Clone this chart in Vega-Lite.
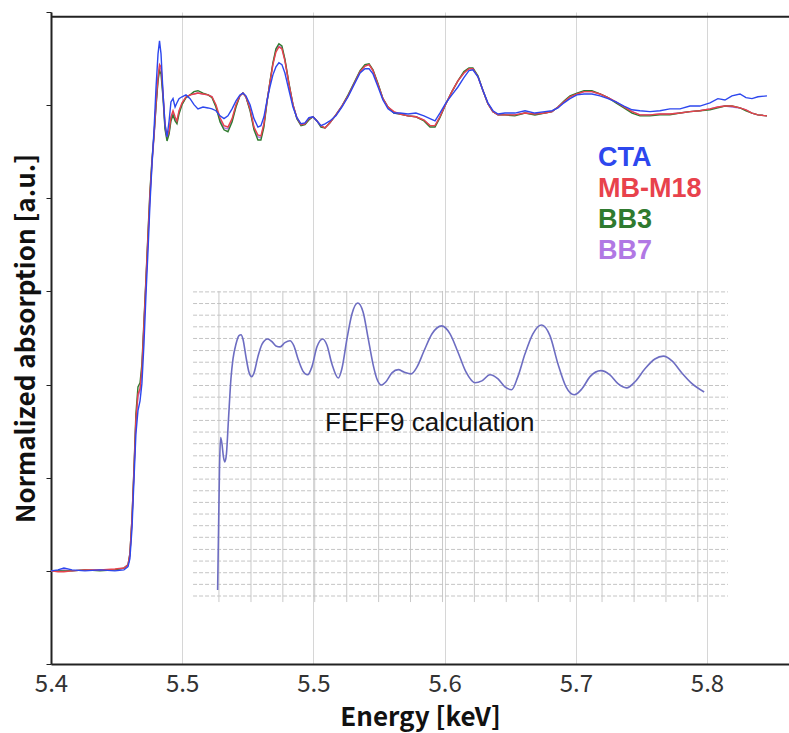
{
  "$schema": "https://vega.github.io/schema/vega-lite/v6.json",
  "width": 738,
  "height": 652,
  "autosize": {"type": "none"},
  "padding": {"left": 51, "top": 12, "right": 0, "bottom": 69},
  "background": "white",
  "config": {"view": {"stroke": null}, "font": "Noto Sans CJK JP"},
  "datasets": {
    "exp": [
      {"E":5.4000,"CTA":0,"MB-M18":0,"BB3":0,"BB7":0},
      {"E":5.4037,"CTA":0.002,"MB-M18":-0.002,"BB3":0,"BB7":0},
      {"E":5.4069,"CTA":0.006,"MB-M18":-0.002,"BB3":0,"BB7":0.002},
      {"E":5.4112,"CTA":0.002,"MB-M18":0,"BB3":0,"BB7":0},
      {"E":5.4181,"CTA":0,"MB-M18":0.002,"BB3":0.002,"BB7":0.002},
      {"E":5.4261,"CTA":0.002,"MB-M18":0.002,"BB3":0,"BB7":0.002},
      {"E":5.4341,"CTA":0,"MB-M18":0.004,"BB3":0.002,"BB7":0.002},
      {"E":5.4389,"CTA":0.002,"MB-M18":0.006,"BB3":0.006,"BB7":0.006},
      {"E":5.4411,"CTA":0.009,"MB-M18":0.013,"BB3":0.013,"BB7":0.013},
      {"E":5.4421,"CTA":0.026,"MB-M18":0.037,"BB3":0.037,"BB7":0.034},
      {"E":5.4432,"CTA":0.090,"MB-M18":0.112,"BB3":0.112,"BB7":0.107},
      {"E":5.4443,"CTA":0.198,"MB-M18":0.219,"BB3":0.223,"BB7":0.215},
      {"E":5.4453,"CTA":0.294,"MB-M18":0.326,"BB3":0.337,"BB7":0.322},
      {"E":5.4464,"CTA":0.344,"MB-M18":0.380,"BB3":0.395,"BB7":0.374},
      {"E":5.4475,"CTA":0.365,"MB-M18":0.391,"BB3":0.404,"BB7":0.387},
      {"E":5.4485,"CTA":0.402,"MB-M18":0.434,"BB3":0.444,"BB7":0.429},
      {"E":5.4496,"CTA":0.487,"MB-M18":0.530,"BB3":0.537,"BB7":0.524},
      {"E":5.4507,"CTA":0.595,"MB-M18":0.627,"BB3":0.631,"BB7":0.623},
      {"E":5.4518,"CTA":0.691,"MB-M18":0.724,"BB3":0.730,"BB7":0.717},
      {"E":5.4528,"CTA":0.788,"MB-M18":0.810,"BB3":0.816,"BB7":0.803},
      {"E":5.4539,"CTA":0.874,"MB-M18":0.880,"BB3":0.885,"BB7":0.874},
      {"E":5.4550,"CTA":0.949,"MB-M18":0.938,"BB3":0.938,"BB7":0.932},
      {"E":5.4560,"CTA":1.035,"MB-M18":1.003,"BB3":0.996,"BB7":0.996},
      {"E":5.4571,"CTA":1.110,"MB-M18":1.061,"BB3":1.052,"BB7":1.056},
      {"E":5.4579,"CTA":1.138,"MB-M18":1.087,"BB3":1.074,"BB7":1.082},
      {"E":5.4587,"CTA":1.110,"MB-M18":1.082,"BB3":1.067,"BB7":1.078},
      {"E":5.4598,"CTA":1.024,"MB-M18":1.024,"BB3":1.014,"BB7":1.018},
      {"E":5.4608,"CTA":0.960,"MB-M18":0.960,"BB3":0.949,"BB7":0.953},
      {"E":5.4619,"CTA":0.932,"MB-M18":0.932,"BB3":0.923,"BB7":0.928},
      {"E":5.4630,"CTA":0.966,"MB-M18":0.945,"BB3":0.938,"BB7":0.941},
      {"E":5.4640,"CTA":1.007,"MB-M18":0.975,"BB3":0.966,"BB7":0.971},
      {"E":5.4651,"CTA":1.014,"MB-M18":0.988,"BB3":0.979,"BB7":0.983},
      {"E":5.4662,"CTA":0.996,"MB-M18":0.975,"BB3":0.966,"BB7":0.971},
      {"E":5.4672,"CTA":1.005,"MB-M18":0.966,"BB3":0.960,"BB7":0.964},
      {"E":5.4683,"CTA":1.014,"MB-M18":0.988,"BB3":0.981,"BB7":0.986},
      {"E":5.4699,"CTA":1.018,"MB-M18":1.005,"BB3":1.001,"BB7":1.003},
      {"E":5.4720,"CTA":1.022,"MB-M18":1.018,"BB3":1.016,"BB7":1.016},
      {"E":5.4742,"CTA":1.014,"MB-M18":1.022,"BB3":1.022,"BB7":1.022},
      {"E":5.4763,"CTA":1.001,"MB-M18":1.024,"BB3":1.029,"BB7":1.024},
      {"E":5.4784,"CTA":0.992,"MB-M18":1.026,"BB3":1.031,"BB7":1.026},
      {"E":5.4811,"CTA":0.996,"MB-M18":1.024,"BB3":1.026,"BB7":1.024},
      {"E":5.4838,"CTA":0.994,"MB-M18":1.022,"BB3":1.022,"BB7":1.022},
      {"E":5.4859,"CTA":0.992,"MB-M18":1.018,"BB3":1.016,"BB7":1.018},
      {"E":5.4880,"CTA":0.988,"MB-M18":1.001,"BB3":0.996,"BB7":0.998},
      {"E":5.4902,"CTA":0.977,"MB-M18":0.973,"BB3":0.964,"BB7":0.968},
      {"E":5.4923,"CTA":0.971,"MB-M18":0.956,"BB3":0.947,"BB7":0.951},
      {"E":5.4944,"CTA":0.977,"MB-M18":0.953,"BB3":0.943,"BB7":0.949},
      {"E":5.4966,"CTA":0.992,"MB-M18":0.971,"BB3":0.964,"BB7":0.968},
      {"E":5.4987,"CTA":1.009,"MB-M18":1.001,"BB3":0.996,"BB7":0.998},
      {"E":5.5008,"CTA":1.022,"MB-M18":1.020,"BB3":1.020,"BB7":1.020},
      {"E":5.5024,"CTA":1.026,"MB-M18":1.026,"BB3":1.026,"BB7":1.026},
      {"E":5.5040,"CTA":1.020,"MB-M18":1.018,"BB3":1.018,"BB7":1.018},
      {"E":5.5062,"CTA":1.001,"MB-M18":0.992,"BB3":0.988,"BB7":0.990},
      {"E":5.5083,"CTA":0.971,"MB-M18":0.953,"BB3":0.947,"BB7":0.951},
      {"E":5.5104,"CTA":0.953,"MB-M18":0.936,"BB3":0.925,"BB7":0.932},
      {"E":5.5120,"CTA":0.956,"MB-M18":0.934,"BB3":0.925,"BB7":0.930},
      {"E":5.5136,"CTA":0.975,"MB-M18":0.960,"BB3":0.953,"BB7":0.958},
      {"E":5.5152,"CTA":1.009,"MB-M18":1.007,"BB3":1.005,"BB7":1.007},
      {"E":5.5168,"CTA":1.039,"MB-M18":1.048,"BB3":1.050,"BB7":1.048},
      {"E":5.5184,"CTA":1.065,"MB-M18":1.087,"BB3":1.091,"BB7":1.089},
      {"E":5.5200,"CTA":1.082,"MB-M18":1.114,"BB3":1.121,"BB7":1.117},
      {"E":5.5216,"CTA":1.091,"MB-M18":1.125,"BB3":1.132,"BB7":1.127},
      {"E":5.5232,"CTA":1.087,"MB-M18":1.121,"BB3":1.127,"BB7":1.123},
      {"E":5.5248,"CTA":1.069,"MB-M18":1.095,"BB3":1.099,"BB7":1.097},
      {"E":5.5270,"CTA":1.031,"MB-M18":1.044,"BB3":1.046,"BB7":1.044},
      {"E":5.5291,"CTA":0.996,"MB-M18":1.001,"BB3":1.001,"BB7":1.001},
      {"E":5.5312,"CTA":0.973,"MB-M18":0.973,"BB3":0.971,"BB7":0.971},
      {"E":5.5334,"CTA":0.960,"MB-M18":0.958,"BB3":0.956,"BB7":0.958},
      {"E":5.5355,"CTA":0.962,"MB-M18":0.960,"BB3":0.958,"BB7":0.960},
      {"E":5.5376,"CTA":0.973,"MB-M18":0.971,"BB3":0.968,"BB7":0.971},
      {"E":5.5398,"CTA":0.975,"MB-M18":0.975,"BB3":0.975,"BB7":0.975},
      {"E":5.5419,"CTA":0.966,"MB-M18":0.966,"BB3":0.966,"BB7":0.966},
      {"E":5.5440,"CTA":0.956,"MB-M18":0.956,"BB3":0.953,"BB7":0.956},
      {"E":5.5462,"CTA":0.960,"MB-M18":0.951,"BB3":0.951,"BB7":0.951},
      {"E":5.5488,"CTA":0.966,"MB-M18":0.962,"BB3":0.962,"BB7":0.962},
      {"E":5.5520,"CTA":0.977,"MB-M18":0.979,"BB3":0.979,"BB7":0.979},
      {"E":5.5552,"CTA":0.996,"MB-M18":0.998,"BB3":0.998,"BB7":0.998},
      {"E":5.5585,"CTA":1.018,"MB-M18":1.020,"BB3":1.022,"BB7":1.020},
      {"E":5.5617,"CTA":1.044,"MB-M18":1.046,"BB3":1.048,"BB7":1.046},
      {"E":5.5649,"CTA":1.069,"MB-M18":1.072,"BB3":1.074,"BB7":1.072},
      {"E":5.5675,"CTA":1.078,"MB-M18":1.084,"BB3":1.087,"BB7":1.084},
      {"E":5.5697,"CTA":1.078,"MB-M18":1.087,"BB3":1.089,"BB7":1.087},
      {"E":5.5718,"CTA":1.067,"MB-M18":1.074,"BB3":1.076,"BB7":1.074},
      {"E":5.5745,"CTA":1.039,"MB-M18":1.044,"BB3":1.046,"BB7":1.044},
      {"E":5.5771,"CTA":1.011,"MB-M18":1.014,"BB3":1.014,"BB7":1.014},
      {"E":5.5798,"CTA":0.992,"MB-M18":0.996,"BB3":0.996,"BB7":0.996},
      {"E":5.5830,"CTA":0.983,"MB-M18":0.986,"BB3":0.983,"BB7":0.983},
      {"E":5.5862,"CTA":0.983,"MB-M18":0.981,"BB3":0.981,"BB7":0.981},
      {"E":5.5905,"CTA":0.981,"MB-M18":0.977,"BB3":0.977,"BB7":0.977},
      {"E":5.5947,"CTA":0.983,"MB-M18":0.975,"BB3":0.975,"BB7":0.975},
      {"E":5.5990,"CTA":0.977,"MB-M18":0.968,"BB3":0.966,"BB7":0.968},
      {"E":5.6022,"CTA":0.971,"MB-M18":0.956,"BB3":0.953,"BB7":0.956},
      {"E":5.6049,"CTA":0.966,"MB-M18":0.956,"BB3":0.953,"BB7":0.956},
      {"E":5.6075,"CTA":0.983,"MB-M18":0.975,"BB3":0.973,"BB7":0.975},
      {"E":5.6107,"CTA":1.005,"MB-M18":1.003,"BB3":1.003,"BB7":1.003},
      {"E":5.6139,"CTA":1.022,"MB-M18":1.029,"BB3":1.029,"BB7":1.029},
      {"E":5.6171,"CTA":1.039,"MB-M18":1.052,"BB3":1.052,"BB7":1.052},
      {"E":5.6203,"CTA":1.059,"MB-M18":1.069,"BB3":1.072,"BB7":1.069},
      {"E":5.6230,"CTA":1.074,"MB-M18":1.078,"BB3":1.080,"BB7":1.078},
      {"E":5.6251,"CTA":1.076,"MB-M18":1.078,"BB3":1.080,"BB7":1.078},
      {"E":5.6278,"CTA":1.061,"MB-M18":1.061,"BB3":1.063,"BB7":1.061},
      {"E":5.6305,"CTA":1.031,"MB-M18":1.031,"BB3":1.031,"BB7":1.031},
      {"E":5.6331,"CTA":1.005,"MB-M18":1.003,"BB3":1.003,"BB7":1.003},
      {"E":5.6358,"CTA":0.988,"MB-M18":0.986,"BB3":0.986,"BB7":0.986},
      {"E":5.6385,"CTA":0.981,"MB-M18":0.979,"BB3":0.979,"BB7":0.979},
      {"E":5.6422,"CTA":0.983,"MB-M18":0.979,"BB3":0.979,"BB7":0.979},
      {"E":5.6475,"CTA":0.983,"MB-M18":0.979,"BB3":0.977,"BB7":0.979},
      {"E":5.6529,"CTA":0.988,"MB-M18":0.983,"BB3":0.983,"BB7":0.983},
      {"E":5.6582,"CTA":0.983,"MB-M18":0.981,"BB3":0.979,"BB7":0.981},
      {"E":5.6635,"CTA":0.986,"MB-M18":0.983,"BB3":0.983,"BB7":0.983},
      {"E":5.6673,"CTA":0.988,"MB-M18":0.986,"BB3":0.986,"BB7":0.986},
      {"E":5.6705,"CTA":0.994,"MB-M18":0.996,"BB3":0.996,"BB7":0.996},
      {"E":5.6737,"CTA":1.005,"MB-M18":1.007,"BB3":1.009,"BB7":1.007},
      {"E":5.6769,"CTA":1.014,"MB-M18":1.018,"BB3":1.020,"BB7":1.018},
      {"E":5.6806,"CTA":1.022,"MB-M18":1.024,"BB3":1.026,"BB7":1.024},
      {"E":5.6844,"CTA":1.024,"MB-M18":1.029,"BB3":1.031,"BB7":1.029},
      {"E":5.6886,"CTA":1.024,"MB-M18":1.029,"BB3":1.031,"BB7":1.029},
      {"E":5.6929,"CTA":1.020,"MB-M18":1.024,"BB3":1.024,"BB7":1.024},
      {"E":5.6972,"CTA":1.014,"MB-M18":1.016,"BB3":1.016,"BB7":1.016},
      {"E":5.7014,"CTA":1.007,"MB-M18":1.007,"BB3":1.005,"BB7":1.007},
      {"E":5.7057,"CTA":0.998,"MB-M18":0.996,"BB3":0.994,"BB7":0.996},
      {"E":5.7100,"CTA":0.990,"MB-M18":0.986,"BB3":0.983,"BB7":0.986},
      {"E":5.7142,"CTA":0.988,"MB-M18":0.979,"BB3":0.977,"BB7":0.979},
      {"E":5.7196,"CTA":0.986,"MB-M18":0.979,"BB3":0.977,"BB7":0.979},
      {"E":5.7249,"CTA":0.988,"MB-M18":0.981,"BB3":0.979,"BB7":0.981},
      {"E":5.7302,"CTA":0.992,"MB-M18":0.981,"BB3":0.979,"BB7":0.981},
      {"E":5.7356,"CTA":0.992,"MB-M18":0.983,"BB3":0.983,"BB7":0.983},
      {"E":5.7409,"CTA":0.998,"MB-M18":0.986,"BB3":0.986,"BB7":0.986},
      {"E":5.7462,"CTA":0.998,"MB-M18":0.988,"BB3":0.988,"BB7":0.988},
      {"E":5.7516,"CTA":1.005,"MB-M18":0.992,"BB3":0.990,"BB7":0.992},
      {"E":5.7558,"CTA":1.014,"MB-M18":0.996,"BB3":0.994,"BB7":0.996},
      {"E":5.7596,"CTA":1.011,"MB-M18":0.998,"BB3":0.998,"BB7":0.998},
      {"E":5.7633,"CTA":1.020,"MB-M18":0.998,"BB3":0.998,"BB7":0.996},
      {"E":5.7676,"CTA":1.024,"MB-M18":0.994,"BB3":0.994,"BB7":0.994},
      {"E":5.7708,"CTA":1.016,"MB-M18":0.990,"BB3":0.988,"BB7":0.990},
      {"E":5.7740,"CTA":1.014,"MB-M18":0.983,"BB3":0.983,"BB7":0.983},
      {"E":5.7772,"CTA":1.018,"MB-M18":0.979,"BB3":0.979,"BB7":0.979},
      {"E":5.7820,"CTA":1.020,"MB-M18":0.977,"BB3":0.977,"BB7":0.977}
    ],
    "feff": [
      {"E":5.4889,"A":-0.041},{"E":5.4894,"A":0.090},{"E":5.4899,"A":0.219},{"E":5.4905,"A":0.286},
      {"E":5.4912,"A":0.273},{"E":5.4920,"A":0.245},{"E":5.4928,"A":0.234},{"E":5.4936,"A":0.251},
      {"E":5.4947,"A":0.326},{"E":5.4960,"A":0.412},{"E":5.4971,"A":0.455},{"E":5.4987,"A":0.487},
      {"E":5.5003,"A":0.505},{"E":5.5014,"A":0.507},{"E":5.5024,"A":0.498},{"E":5.5040,"A":0.460},
      {"E":5.5056,"A":0.427},{"E":5.5071,"A":0.417},{"E":5.5083,"A":0.425},{"E":5.5104,"A":0.460},
      {"E":5.5126,"A":0.487},{"E":5.5156,"A":0.498},{"E":5.5179,"A":0.492},{"E":5.5200,"A":0.483},
      {"E":5.5222,"A":0.481},{"E":5.5248,"A":0.490},{"E":5.5275,"A":0.494},{"E":5.5296,"A":0.483},
      {"E":5.5318,"A":0.455},{"E":5.5344,"A":0.429},{"E":5.5369,"A":0.421},{"E":5.5392,"A":0.438},
      {"E":5.5419,"A":0.481},{"E":5.5450,"A":0.498},{"E":5.5472,"A":0.485},{"E":5.5499,"A":0.444},
      {"E":5.5533,"A":0.414},{"E":5.5552,"A":0.434},{"E":5.5579,"A":0.498},{"E":5.5606,"A":0.552},
      {"E":5.5636,"A":0.575},{"E":5.5665,"A":0.556},{"E":5.5691,"A":0.502},{"E":5.5718,"A":0.444},
      {"E":5.5739,"A":0.412},{"E":5.5764,"A":0.399},{"E":5.5787,"A":0.406},{"E":5.5819,"A":0.425},
      {"E":5.5853,"A":0.432},{"E":5.5883,"A":0.427},{"E":5.5921,"A":0.423},{"E":5.5953,"A":0.438},
      {"E":5.5990,"A":0.472},{"E":5.6033,"A":0.509},{"E":5.6084,"A":0.526},{"E":5.6129,"A":0.509},
      {"E":5.6171,"A":0.470},{"E":5.6214,"A":0.427},{"E":5.6262,"A":0.404},{"E":5.6299,"A":0.408},
      {"E":5.6342,"A":0.421},{"E":5.6385,"A":0.412},{"E":5.6422,"A":0.395},{"E":5.6458,"A":0.389},
      {"E":5.6491,"A":0.417},{"E":5.6529,"A":0.466},{"E":5.6571,"A":0.509},{"E":5.6618,"A":0.528},
      {"E":5.6662,"A":0.505},{"E":5.6705,"A":0.444},{"E":5.6748,"A":0.395},{"E":5.6792,"A":0.378},
      {"E":5.6833,"A":0.391},{"E":5.6876,"A":0.417},{"E":5.6934,"A":0.430},{"E":5.6982,"A":0.421},
      {"E":5.7025,"A":0.402},{"E":5.7071,"A":0.393},{"E":5.7116,"A":0.406},{"E":5.7169,"A":0.434},
      {"E":5.7222,"A":0.455},{"E":5.7267,"A":0.461},{"E":5.7313,"A":0.451},{"E":5.7366,"A":0.425},
      {"E":5.7420,"A":0.402},{"E":5.7485,"A":0.384}
    ],
    "vgrid": [
      {"E":5.4896},{"E":5.5067},{"E":5.5237},{"E":5.5407},{"E":5.5578},{"E":5.5748},{"E":5.5918},{"E":5.6089},
      {"E":5.6259},{"E":5.6429},{"E":5.6600},{"E":5.6770},{"E":5.6940},{"E":5.7111},{"E":5.7281},{"E":5.7451}
    ],
    "hgrid": [
      {"A":0.599},{"A":0.574},{"A":0.549},{"A":0.524},{"A":0.499},{"A":0.473},{"A":0.448},{"A":0.423},{"A":0.398},
      {"A":0.373},{"A":0.348},{"A":0.323},{"A":0.298},{"A":0.273},{"A":0.247},{"A":0.222},{"A":0.197},{"A":0.172},
      {"A":0.147},{"A":0.122},{"A":0.097},{"A":0.072},{"A":0.046},{"A":0.021},{"A":-0.004},{"A":-0.029},{"A":-0.054}
    ],
    "legendRows": [
      {"sample":"CTA","A":0.870},
      {"sample":"MB-M18","A":0.803},
      {"sample":"BB3","A":0.737},
      {"sample":"BB7","A":0.670}
    ],
    "notes": [
      {"note":"FEFF9 calculation","E":5.5462,"A":0.301}
    ],
    "frame": [
      {"E":5.4,"E2":5.79375,"A":1.19}
    ]
  },
  "layer": [
    {
      "data": {"name": "vgrid"},
      "mark": {"type": "rule", "color": "#c9c9c9", "strokeWidth": 1},
      "encoding": {
        "x": {"field": "E", "type": "quantitative"},
        "y": {"datum": 0.601},
        "y2": {"datum": -0.067}
      }
    },
    {
      "data": {"name": "hgrid"},
      "mark": {"type": "rule", "color": "#c4c4c4", "strokeWidth": 1, "strokeDash": [4, 2]},
      "encoding": {
        "y": {"field": "A", "type": "quantitative"},
        "x": {"datum": 5.4758},
        "x2": {"datum": 5.7612}
      }
    },
    {
      "data": {"name": "feff"},
      "mark": {"type": "line", "color": "#6d6dc2", "strokeWidth": 1.6, "interpolate": "monotone"},
      "encoding": {
        "x": {"field": "E", "type": "quantitative"},
        "y": {"field": "A", "type": "quantitative"}
      }
    },
    {
      "data": {"name": "exp"},
      "transform": [{"fold": ["BB7", "BB3", "MB-M18", "CTA"], "as": ["sample", "A"]}],
      "mark": {"type": "line", "strokeWidth": 1.4},
      "encoding": {
        "x": {
          "field": "E", "type": "quantitative",
          "scale": {"domain": [5.4, 5.79375], "nice": false, "zero": false},
          "axis": {
            "values": [5.4, 5.47, 5.54, 5.61, 5.68, 5.75],
            "format": ".1f",
            "labelFlush": false,
            "labelFont": "Noto Sans CJK JP",
            "labelFontSize": 24,
            "labelColor": "#333333",
            "labelPadding": 8,
            "labelDx": 5,
            "ticks": false,
            "domainColor": "#222222",
            "domainWidth": 2,
            "gridColor": "#d6d6d6",
            "title": "Energy [keV]",
            "titleFont": "Noto Sans CJK JP",
            "titleFontSize": 26,
            "titleFontWeight": "bold",
            "titleColor": "#111111",
            "titlePadding": 8
          }
        },
        "y": {
          "field": "A", "type": "quantitative",
          "scale": {"domain": [-0.2, 1.2], "nice": false, "zero": false},
          "axis": {
            "values": [-0.2, 0, 0.2, 0.4, 0.6, 0.8, 1.0, 1.2],
            "labels": false,
            "tickSize": 5,
            "tickColor": "#222222",
            "domainColor": "#222222",
            "domainWidth": 2,
            "gridColor": "#d6d6d6",
            "title": "Normalized absorption [a.u.]",
            "titleFont": "Noto Sans CJK JP",
            "titleFontSize": 26,
            "titleFontWeight": "bold",
            "titleColor": "#111111",
            "titlePadding": 6
          }
        },
        "color": {
          "field": "sample", "type": "nominal",
          "scale": {"domain": ["CTA", "MB-M18", "BB3", "BB7"], "range": ["#2d47ee", "#e8424c", "#2f7a2f", "#b178e4"]},
          "legend": null
        }
      }
    },
    {
      "data": {"name": "legendRows"},
      "mark": {"type": "text", "align": "left", "baseline": "alphabetic", "font": "Liberation Sans", "fontSize": 27, "fontWeight": "bold"},
      "encoding": {
        "x": {"datum": 5.6918},
        "y": {"field": "A", "type": "quantitative"},
        "text": {"field": "sample"},
        "color": {"field": "sample", "type": "nominal", "legend": null}
      }
    },
    {
      "data": {"name": "notes"},
      "mark": {"type": "text", "align": "left", "baseline": "alphabetic", "font": "Liberation Sans", "fontSize": 26, "color": "#141414"},
      "encoding": {
        "x": {"field": "E", "type": "quantitative"},
        "y": {"field": "A", "type": "quantitative"},
        "text": {"field": "note"}
      }
    },
    {
      "data": {"name": "frame"},
      "mark": {"type": "rule", "color": "#222222", "strokeWidth": 2},
      "encoding": {
        "x": {"field": "E", "type": "quantitative"},
        "x2": {"field": "E2"},
        "y": {"field": "A", "type": "quantitative"}
      }
    }
  ]
}
